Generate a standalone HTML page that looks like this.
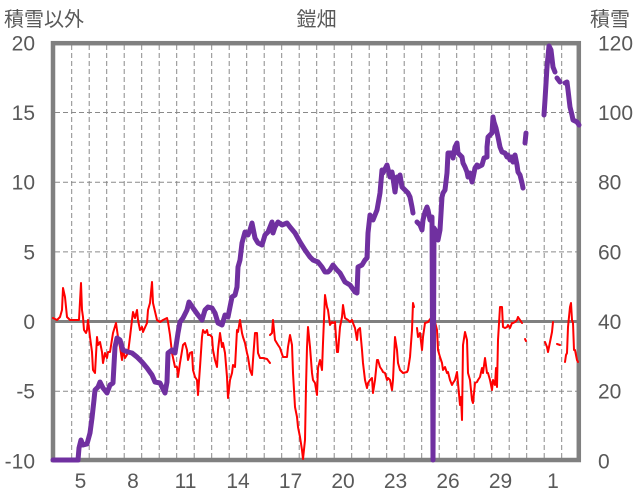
<!DOCTYPE html>
<html><head><meta charset="utf-8"><style>
html,body{margin:0;padding:0;background:#fff;}
svg{display:block;}
.t{font-family:"Liberation Sans","Noto Sans CJK JP",sans-serif;fill:#595959;}
</style></head><body>
<svg width="636" height="501" viewBox="0 0 636 501" xmlns="http://www.w3.org/2000/svg">
<rect width="636" height="501" fill="#fff"/>
<g stroke="#8a8a8a" stroke-width="1" stroke-dasharray="5,3" fill="none">
<path d="M71.7 45V458M89.2 45V458M106.7 45V458M124.2 45V458M141.7 45V458M159.2 45V458M176.7 45V458M194.2 45V458M211.7 45V458M229.2 45V458M246.7 45V458M264.2 45V458M281.7 45V458M299.2 45V458M316.7 45V458M334.2 45V458M351.7 45V458M369.2 45V458M386.7 45V458M404.2 45V458M421.7 45V458M439.2 45V458M456.7 45V458M474.2 45V458M491.7 45V458M509.2 45V458M526.7 45V458M544.2 45V458M561.7 45V458"/>
<path d="M55 112.5H577M55 182.2H577M55 251.9H577M55 391.2H577"/>
</g>
<line x1="55" y1="321.5" x2="577" y2="321.5" stroke="#808080" stroke-width="3"/>
<rect x="53" y="43.2" width="525.8" height="416.8" fill="none" stroke="#808080" stroke-width="4.5"/>
<g fill="none" stroke="#ff0000" stroke-width="2" stroke-linejoin="round" stroke-linecap="round">
<polyline points="53,318 57,320 60,317 62,310 63,288 65,297 67,317 70,320 79,320 81,283 82,310 83,317 84,330 86,333 87,330 88,320 90,337 92,352 93,370 95,373 97,337 98,345 100,342 102,352 103,363 105,353 107,358 108,352 110,352 113,333 116,323 118,337 120,347 122,360 123,350 125,358 128,353 130,337 132,320 133,312 135,318 137,310 138,320 140,330 142,327 143,332 147,323 148,310 150,303 152,282 153,303 157,320 160,322 163,320 167,318 168,322 170,335 172,353 175,367 177,367 178,377 180,363 183,345 185,343 187,350 188,360 190,353 192,352 193,370 195,377 197,380 198,395 200,367 202,337 203,330 205,333 207,330 208,335 210,335 212,337 213,350 215,360 217,367 218,350 220,333 222,347 223,343 225,353 227,377 228,398 230,380 232,373 233,365 235,367 237,330 238,332 240,320 242,333 243,337 245,343 247,353 248,357 250,370 252,375 253,360 255,333 257,333 258,353 260,358 263,358 267,359 270,363"/>
<polyline points="270,335 272,333 273,320 275,340 278,345 280,348 283,357 287,357 288,347 290,335 292,345 293,373 295,407 297,417 298,427 300,437 302,450 303,459 305,440 306,387 307,347 308,327 310,347 312,373 313,380 315,383 317,395 318,368 320,360 322,370 323,343 325,295 327,307 328,310 330,325 332,322 333,323 335,322 337,352 338,352 340,327 342,317 343,305 345,318 348,320 350,322 352,320 353,323 355,328 357,340 358,330 360,328 362,350 363,363 365,380 367,388 368,383 370,380 372,378 373,393 375,380 377,360 378,360 380,367 382,370 383,372 385,373 387,380 388,378 390,380 392,390 393,380 395,337 397,350 398,363 400,370 403,373 407,372 408,370 410,357 412,330 413,303 414,307"/>
<polyline points="417,328 418,337 420,333 422,350 423,337 425,323 428,322 431,318 433,323 435,322 437,330 438,350 440,357 442,363 443,370 445,367 447,373 448,372 450,380 452,385 453,383 455,380 457,372 458,383 460,405 461,397 462,420 463,345 465,332 467,340 468,373 470,380 472,400 473,403 475,383 477,382 478,380 480,377 482,368 483,373 485,358 487,373 488,373 490,380 492,390 493,380 495,385 496,368 497,387 498,340 500,307 502,307 503,327 505,328 507,327 508,325 510,328 512,323 513,323 515,322 517,320 518,317 520,320 522,323"/>
<polyline points="525,339 526,341"/>
<polyline points="545,342 547,347 548,352 550,342 552,332 553,322"/>
<polyline points="557,344 560,345"/>
<polyline points="565,362 566,355 567,353 568,327 570,307 571,303 572,320 573,323 574,350 575,350 577,360 578,362"/>
</g>
<g fill="none" stroke="#7030a0" stroke-width="5" stroke-linejoin="round" stroke-linecap="round">
<polyline points="53,460 78,460 79,448 81,440 83,445 87,444 90,433 92,418 94,400 95,390 98,387 100,382 103,388 107,393 110,385 113,383 115,347 117,338 120,340 123,350 128,352 132,353 137,357 142,362 147,368 152,375 155,382 160,383 165,393 167,382 168,353 172,350 175,353 178,333 180,322 183,318 187,310 189,302 193,308 198,315 202,320 205,310 208,307 212,308 215,313 218,323 222,325 225,315 228,317 232,297 235,295 237,287 238,267 240,260 242,243 245,232 248,235 250,230 252,223 255,238 258,243 262,245 265,235 268,232 270,227 272,222 273,233 275,227 278,222 282,225 287,223 290,227 295,233 300,242 305,250 310,257 313,260 318,262 322,267 325,272 328,272 330,270 333,265 337,270 340,273 345,282 350,285 355,292 357,293 358,267 362,265 365,260 367,258 368,233 370,215 373,220 377,210 380,193 382,170 383,173 387,165 390,177 392,172 393,178 395,192 397,177 398,180 400,175 402,187 405,190 408,193 410,197 412,207 413,213"/>
<polyline points="417,222 420,225 422,230 423,220 425,212 427,207 428,210 430,220 432,217 433,460 434,228 437,233 438,240 440,230 442,197 443,193 445,190 447,173 448,153 452,153 453,158 455,147 457,143 458,153 462,157 463,163 465,167 467,172 468,177 470,173 472,182 473,178 475,168 477,165 478,167 482,165 484,158 487,157 487,147 488,137 492,133 493,117 494,122 496,128 498,137 500,147 502,152 505,153 507,157 508,155 510,160 512,157 513,162 515,155 517,165 518,172 520,175 522,183 523,188"/>
<polyline points="525,143 526,133"/>
<polyline points="544,115 545,100 547,67 549,46 551,50 553,67 555,72"/>
<polyline points="557,78 560,82"/>
<polyline points="565,83 567,82 568,90 570,107 572,115 573,120 577,122 579,125"/>
</g>
<g class="t" font-size="21">
<text x="35" y="50.5" text-anchor="end">20</text>
<text x="35" y="120" text-anchor="end">15</text>
<text x="35" y="189.7" text-anchor="end">10</text>
<text x="35" y="259.4" text-anchor="end">5</text>
<text x="35" y="329" text-anchor="end">0</text>
<text x="35" y="398.7" text-anchor="end">-5</text>
<text x="35" y="468.3" text-anchor="end">-10</text>
<text x="598" y="50.5">120</text>
<text x="598" y="120">100</text>
<text x="598" y="189.7">80</text>
<text x="598" y="259.4">60</text>
<text x="598" y="329">40</text>
<text x="598" y="398.7">20</text>
<text x="598" y="468.3">0</text>
<g text-anchor="middle">
<text x="80.5" y="488">5</text>
<text x="133" y="488">8</text>
<text x="185.5" y="488">11</text>
<text x="238" y="488">14</text>
<text x="290.5" y="488">17</text>
<text x="343" y="488">20</text>
<text x="395.5" y="488">23</text>
<text x="448" y="488">26</text>
<text x="500.5" y="488">29</text>
<text x="553" y="488">1</text>
</g>
</g>
<g class="t" font-size="20">
<text x="4" y="26">積雪以外</text>
<text x="316.5" y="26" text-anchor="middle">鎧畑</text>
<text x="590" y="26">積雪</text>
</g>
</svg>
</body></html>
